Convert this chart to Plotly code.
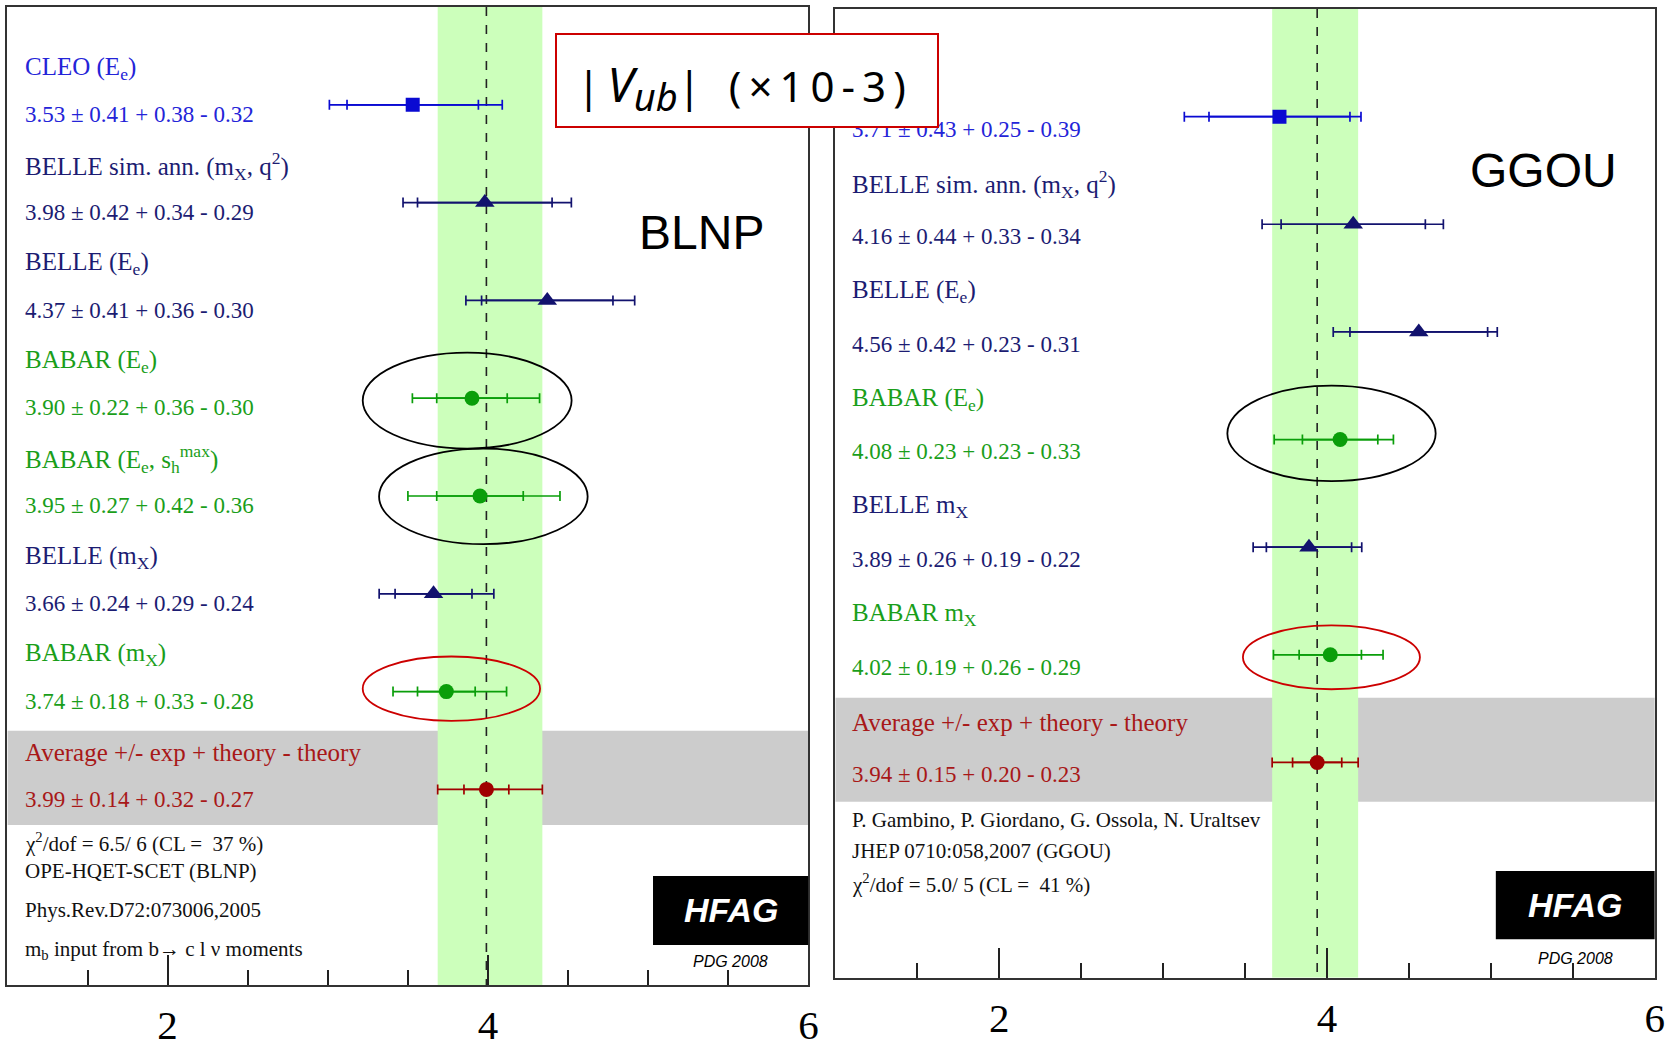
import math
import plotly.graph_objects as go

# ---------------- data: |Vub| determinations (x 10^-3) ----------------
# BLNP (OPE-HQET-SCET) panel
blnp_names = [
    "CLEO (E<sub>e</sub>)",
    "BELLE sim. ann. (m<sub>X</sub>, q<sup>2</sup>)",
    "BELLE (E<sub>e</sub>)",
    "BABAR (E<sub>e</sub>)",
    "BABAR (E<sub>e</sub>, s<sub>h</sub><sup>max</sup>)",
    "BELLE (m<sub>X</sub>)",
    "BABAR (m<sub>X</sub>)",
    "Average +/- exp + theory - theory",
]
blnp_groups = ["CLEO", "BELLE", "BELLE", "BABAR", "BABAR", "BELLE", "BABAR", "AVG"]
blnp_values = [3.53, 3.98, 4.37, 3.90, 3.95, 3.66, 3.74, 3.99]
blnp_exp = [0.41, 0.42, 0.41, 0.22, 0.27, 0.24, 0.18, 0.14]
blnp_th_up = [0.38, 0.34, 0.36, 0.36, 0.42, 0.29, 0.33, 0.32]
blnp_th_dn = [0.32, 0.29, 0.30, 0.30, 0.36, 0.24, 0.28, 0.27]
blnp_notes = [
    "χ<sup>2</sup>/dof = 6.5/ 6 (CL =  37 %)",
    "OPE-HQET-SCET (BLNP)",
    "Phys.Rev.D72:073006,2005",
    "m<sub>b</sub> input from b→ c l ν moments",
]

# GGOU panel
ggou_names = [
    "CLEO (E<sub>e</sub>)",
    "BELLE sim. ann. (m<sub>X</sub>, q<sup>2</sup>)",
    "BELLE (E<sub>e</sub>)",
    "BABAR (E<sub>e</sub>)",
    "BELLE m<sub>X</sub>",
    "BABAR m<sub>X</sub>",
    "Average +/- exp + theory - theory",
]
ggou_groups = ["CLEO", "BELLE", "BELLE", "BABAR", "BELLE", "BABAR", "AVG"]
ggou_values = [3.71, 4.16, 4.56, 4.08, 3.89, 4.02, 3.94]
ggou_exp = [0.43, 0.44, 0.42, 0.23, 0.26, 0.19, 0.15]
ggou_th_up = [0.25, 0.33, 0.23, 0.23, 0.19, 0.26, 0.20]
ggou_th_dn = [0.39, 0.34, 0.31, 0.33, 0.22, 0.29, 0.23]
ggou_notes = [
    "P. Gambino, P. Giordano, G. Ossola, N. Uraltsev",
    "JHEP 0710:058,2007 (GGOU)",
    "χ<sup>2</sup>/dof = 5.0/ 5 (CL =  41 %)",
]

x_ticks = [2, 4, 6]
x_range = [1, 6]

# ---------------- styles ----------------
STYLE = {
    "CLEO": dict(color="#0a0ad2", text="#2424d8", symbol="square", size=14),
    "BELLE": dict(color="#12126e", text="#1c1c72", symbol="triangle-up", size=17),
    "BABAR": dict(color="#0a9e0a", text="#1a9e1a", symbol="circle", size=15),
    "AVG": dict(color="#a00000", text="#a81818", symbol="circle", size=15),
}
SERIF = "Liberation Serif, Times New Roman, serif"
SANS = "Liberation Sans, Arial, sans-serif"
W, H = 1671, 1051

fig = go.Figure()
shapes = []
annotations = []


def add_panel(idx, names, groups, values, exp, th_up, th_dn, name_x, val_dy, covered=()):
    xa = "x" if idx == 1 else "x2"
    ya = "y" if idx == 1 else "y2"
    n = len(values)
    rows = list(range(n))
    tot_up = [math.hypot(e, t) for e, t in zip(exp, th_up)]
    tot_dn = [math.hypot(e, t) for e, t in zip(exp, th_dn)]

    # average row (grey) and total-error band of the average (green)
    avg, aup, adn = values[-1], tot_up[-1], tot_dn[-1]
    shapes.append(dict(type="rect", xref=xa, yref=ya, x0=x_range[0], x1=x_range[1],
                       y0=n - 1 - 0.6, y1=n - 1 + 0.365, fillcolor="#cccccc",
                       line=dict(width=0), layer="below"))
    shapes.append(dict(type="rect", xref=xa, yref=ya, x0=avg - adn, x1=avg + aup,
                       y0=-1, y1=n + 1, fillcolor="#ccffbb", line=dict(width=0),
                       layer="below"))
    shapes.append(dict(type="line", xref=xa, yref=ya, x0=avg, x1=avg, y0=-1, y1=n + 1,
                       line=dict(color="#222222", width=1.6, dash="dash"), layer="below"))

    for g in ["CLEO", "BELLE", "BABAR", "AVG"]:
        sel = [i for i in rows if groups[i] == g]
        if not sel:
            continue
        st = STYLE[g]
        xs = [values[i] for i in sel]
        ys = [rows[i] for i in sel]
        # experimental error ticks
        fig.add_trace(go.Scatter(
            x=xs, y=ys, xaxis=xa, yaxis=ya, mode="markers",
            marker=dict(size=1, color=st["color"]),
            error_x=dict(type="data", symmetric=True, array=[exp[i] for i in sel],
                         color=st["color"], thickness=1.7, width=5),
            showlegend=False, hoverinfo="skip"))
        # total (exp (+) theory) error bar with the central value
        fig.add_trace(go.Scatter(
            x=xs, y=ys, xaxis=xa, yaxis=ya, mode="markers",
            marker=dict(size=st["size"], color=st["color"], symbol=st["symbol"],
                        line=dict(width=0)),
            error_x=dict(type="data", symmetric=False,
                         array=[tot_up[i] for i in sel],
                         arrayminus=[tot_dn[i] for i in sel],
                         color=st["color"], thickness=1.7, width=5),
            showlegend=False))

    for i in rows:
        st = STYLE[groups[i]]
        if i not in covered:
            annotations.append(dict(xref=xa, yref=ya, x=name_x, y=rows[i] - 0.375,
                                    text=names[i], showarrow=False, xanchor="left",
                                    yanchor="middle",
                                    font=dict(family=SERIF, size=25, color=st["text"])))
        label = f"{values[i]:.2f} ± {exp[i]:.2f} + {th_up[i]:.2f} - {th_dn[i]:.2f}"
        annotations.append(dict(xref=xa, yref=ya, x=name_x, y=rows[i] + val_dy,
                                text=label, showarrow=False, xanchor="left",
                                yanchor="middle",
                                font=dict(family=SERIF, size=23, color=st["text"])))
    return n


n1 = add_panel(1, blnp_names, blnp_groups, blnp_values, blnp_exp, blnp_th_up, blnp_th_dn,
               1.10, 0.1)
# the first GGOU row title sits under the |Vub| title box
n2 = add_panel(2, ggou_names, ggou_groups, ggou_values, ggou_exp, ggou_th_up, ggou_th_dn,
               1.09, 0.115, covered=(0,))

# footnotes
for y, t in zip([7.54, 7.83, 8.23, 8.64], blnp_notes):
    annotations.append(dict(xref="x", yref="y", x=1.10, y=y, text=t, showarrow=False,
                            xanchor="left", yanchor="middle",
                            font=dict(family=SERIF, size=21, color="#111111")))
for y, t in zip([6.535, 6.82, 7.123], ggou_notes):
    annotations.append(dict(xref="x2", yref="y2", x=1.09, y=y, text=t, showarrow=False,
                            xanchor="left", yanchor="middle",
                            font=dict(family=SERIF, size=21, color="#111111")))


# highlighted measurements
def ellipse(xa, ya, x0, x1, y0, y1, color):
    shapes.append(dict(type="circle", xref=xa, yref=ya, x0=x0, x1=x1, y0=y0, y1=y1,
                       line=dict(color=color, width=1.8), layer="above"))


ellipse("x", "y", 3.218, 4.522, 2.534, 3.515, "black")
ellipse("x", "y", 3.320, 4.622, 3.515, 4.493, "black")
ellipse("x", "y", 3.218, 4.325, 5.641, 6.299, "#cc0000")
ellipse("x2", "y2", 3.392, 4.663, 2.499, 3.387, "black")
ellipse("x2", "y2", 3.487, 4.567, 4.726, 5.320, "#cc0000")

# HFAG logos
for xa, ya, y0, y1, ypdg in [("x", "y", 7.886, 8.59, 8.76), ("x2", "y2", 7.008, 7.642, 7.82)]:
    shapes.append(dict(type="rect", xref=xa, yref=ya, x0=5.03, x1=6.0, y0=y0, y1=y1,
                       fillcolor="black", line=dict(width=0), layer="above"))
    annotations.append(dict(xref=xa, yref=ya, x=5.515, y=(y0 + y1) / 2,
                            text="<b><i>HFAG</i></b>", showarrow=False,
                            font=dict(family=SANS, size=34, color="white")))
    annotations.append(dict(xref=xa, yref=ya, x=5.515, y=ypdg, text="<i>PDG 2008</i>",
                            showarrow=False, font=dict(family=SANS, size=16, color="black")))

# scheme labels
annotations.append(dict(xref="x", yref="y", x=5.33, y=1.305, text="BLNP", showarrow=False,
                        font=dict(family=SANS, size=48, color="black")))
annotations.append(dict(xref="x2", yref="y2", x=5.32, y=0.496, text="GGOU", showarrow=False,
                        font=dict(family=SANS, size=48, color="black")))

# title box (white, red frame) drawn after the row labels so it covers them,
# then the title text on top of it
annotations.append(dict(xref="paper", yref="paper", x=747.2 / W, y=1 - 80.8 / H,
                        xanchor="center", yanchor="middle", text=" ",
                        showarrow=False, width=380, height=91,
                        bgcolor="white", bordercolor="#cc0000",
                        borderwidth=2, borderpad=0, font=dict(size=10)))
sp = "\u2006"
title_text = ("|" + sp + "<i><span style='font-size:48px'>V</span></i>"
              "<sub><i><span style='font-size:38px'>ub</span></i></sub>|"
              + "\u2002" + sp + "(" + sp + "×" + sp + sp.join("10-3)"))
annotations.append(dict(xref="paper", yref="paper", x=741.0 / W, y=1 - 86.5 / H,
                        xanchor="center", yanchor="middle", text=title_text,
                        showarrow=False,
                        font=dict(family="Noto Sans, Open Sans, sans-serif", size=42,
                                  color="black")))

axis_common = dict(
    range=x_range, showgrid=False, zeroline=False, showline=True, mirror=True,
    linecolor="#333333", linewidth=2, automargin=False,
    ticks="inside", tickmode="array", tickvals=x_ticks, ticktext=[str(t) for t in x_ticks],
    ticklen=30, tickwidth=2, tickcolor="#222222",
    minor=dict(ticks="inside", tickmode="linear", tick0=0, dtick=0.5, ticklen=15,
               tickwidth=2, tickcolor="#222222"),
    tickfont=dict(family=SERIF, size=41, color="black"),
    ticklabelstandoff=3,
)
yaxis_common = dict(showgrid=False, zeroline=False, showticklabels=False, ticks="",
                    showline=True, mirror=True, linecolor="#333333", linewidth=2,
                    automargin=False)

fig.update_layout(
    width=W, height=H, autosize=False,
    margin=dict(l=0, r=0, t=0, b=0, pad=0, autoexpand=False),
    paper_bgcolor="white", plot_bgcolor="white",
    showlegend=False,
    xaxis=dict(domain=[7.4 / W, 808.4 / W], anchor="y", **axis_common),
    yaxis=dict(domain=[1 - 985 / H, 1 - 7 / H], anchor="x", range=[n1 + 1, -1],
               **yaxis_common),
    xaxis2=dict(domain=[835.3 / W, 1654.8 / W], anchor="y2", **axis_common),
    yaxis2=dict(domain=[1 - 977.7 / H, 1 - 9 / H], anchor="x2", range=[n2 + 1, -1],
                **yaxis_common),
    shapes=shapes,
    annotations=annotations,
)

# the figure fills the whole page, so drop the default body margin
fig.write_html("out.html", post_script="document.body.style.margin='0';")
